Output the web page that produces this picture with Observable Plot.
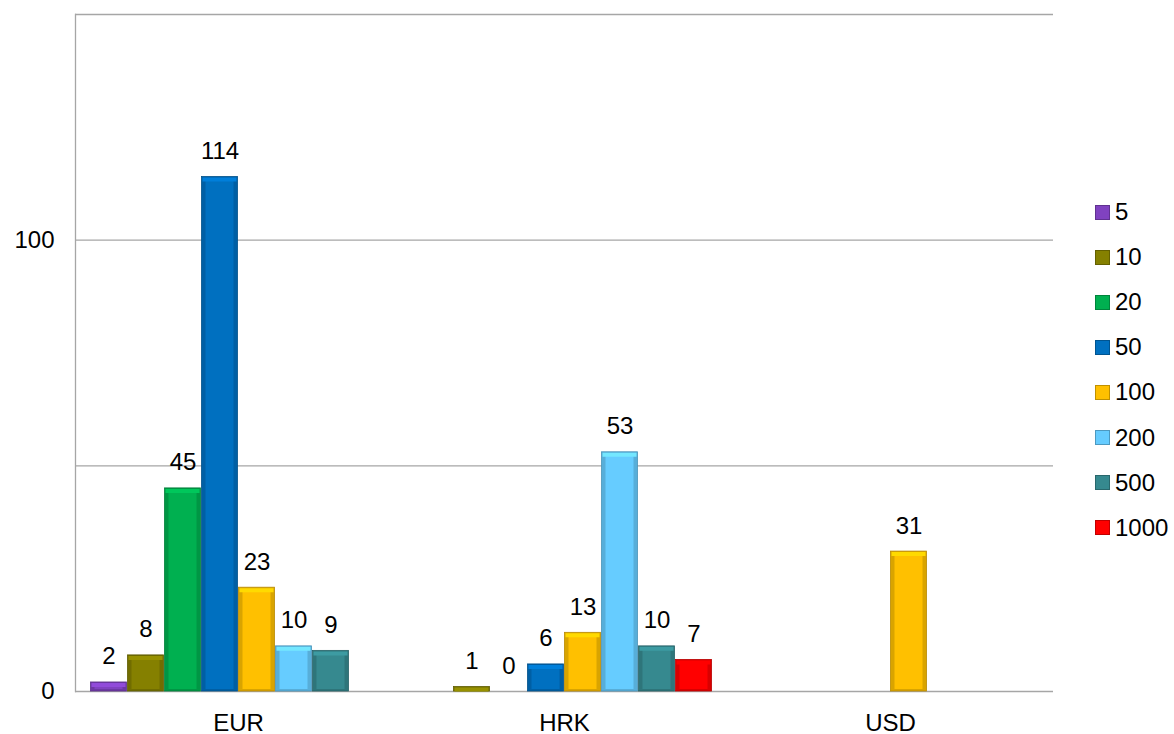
<!DOCTYPE html>
<html><head><meta charset="utf-8">
<script src="https://cdn.jsdelivr.net/npm/d3@7"></script>
<script src="https://cdn.jsdelivr.net/npm/@observablehq/plot@0.6"></script>
<style>
body{margin:0;background:#fff;font-family:"Liberation Sans",Arial,sans-serif}
#wrap{position:relative;width:1174px;height:734px}
#legend{position:absolute;left:1095px;top:0}
.item{position:absolute;left:0;display:flex;align-items:center;font-size:24px;color:#000;white-space:nowrap}
.sw{width:15px;height:15px;margin-right:5px;box-sizing:border-box}
</style>
</head><body><div id="wrap"></div>
<script>
const currencies = ["EUR", "HRK", "USD"];
const denominations = ["5", "10", "20", "50", "100", "200", "500", "1000"];
const colors = ["#8042c0", "#858000", "#00b050", "#0070c0", "#ffc000", "#66ccff", "#36898f", "#ff0000"];
const eurValues = [2, 8, 45, 114, 23, 10, 9, null];
const hrkValues = [null, 1, 0, 6, 13, 53, 10, 7];
const usdValues = [null, null, null, null, 31, null, null, null];
const yTickLabels = [0, 100];
const gridValues = [0, 50, 100, 150];

const series = {EUR: eurValues, HRK: hrkValues, USD: usdValues};
const rows = [];
for (const cur of currencies) {
  series[cur].forEach((v, i) => {
    if (v !== null) rows.push({cur, den: denominations[i], val: v});
  });
}
const nonZero = rows.filter(d => d.val > 0);
const baseColor = d => colors[denominations.indexOf(d.den)];
const edgeColor = d => d3.color(baseColor(d)).darker(0.45).formatHex();
const lightColor = d => d3.color(baseColor(d)).brighter(0.35).formatHex();
const outline = d => d3.color(baseColor(d)).darker(0.9).formatHex();

const chart = Plot.plot({
  width: 1174, height: 734,
  marginLeft: 75, marginRight: 121, marginTop: 14, marginBottom: 43,
  style: {fontFamily: '"Liberation Sans", Arial, sans-serif', fontSize: "24px", color: "#000", background: "white", overflow: "visible"},
  fx: {domain: currencies, padding: 0, label: null, axis: null},
  x: {domain: denominations, paddingInner: 0, paddingOuter: 0.405, axis: null},
  y: {domain: [0, 150], axis: null},
  color: {domain: denominations, range: colors},
  marks: [
    Plot.ruleY(gridValues, {stroke: "#a6a6a6", strokeWidth: 1.3}),
    Plot.frame({anchor: "left", stroke: "#a6a6a6", strokeWidth: 1.3, facetAnchor: "left"}),
    Plot.axisFx({anchor: "bottom", tickSize: 0, tickPadding: 22, label: null, fontSize: 24}),
    Plot.axisY({ticks: yTickLabels, tickSize: 0, tickPadding: 21, label: null, fontSize: 24, facetAnchor: "left"}),
    Plot.barY(nonZero, {fx: "cur", x: "den", y: "val", fill: edgeColor, stroke: outline, strokeWidth: 0.8, insetLeft: 0.5, insetRight: 0.5}),
    Plot.barY(nonZero, {fx: "cur", x: "den", y: "val", fill: baseColor, insetLeft: 4.5, insetRight: 4.5, insetTop: 4, insetBottom: 2}),
    Plot.tickY(nonZero, {fx: "cur", x: "den", y: "val", stroke: lightColor, strokeWidth: 4, dy: 2.5, insetLeft: 1.5, insetRight: 1.5}),
    Plot.text(rows, {fx: "cur", x: "den", y: "val", text: d => String(d.val), lineAnchor: "bottom", dy: -18, fontSize: 24, fill: "#000"})
  ]
});
const wrap = document.getElementById("wrap");
wrap.appendChild(chart);

const legend = document.createElement("div");
legend.id = "legend";
denominations.forEach((d, i) => {
  const it = document.createElement("div");
  it.className = "item";
  it.style.top = (212 + i * 45.1 - 14) + "px";
  it.style.height = "28px";
  const sw = document.createElement("div");
  sw.className = "sw";
  sw.style.background = colors[i];
  sw.style.border = "1px solid " + d3.color(colors[i]).darker(0.8).formatHex();
  const t = document.createElement("span");
  t.textContent = d;
  it.appendChild(sw); it.appendChild(t);
  legend.appendChild(it);
});
wrap.appendChild(legend);
</script>
</body></html>
